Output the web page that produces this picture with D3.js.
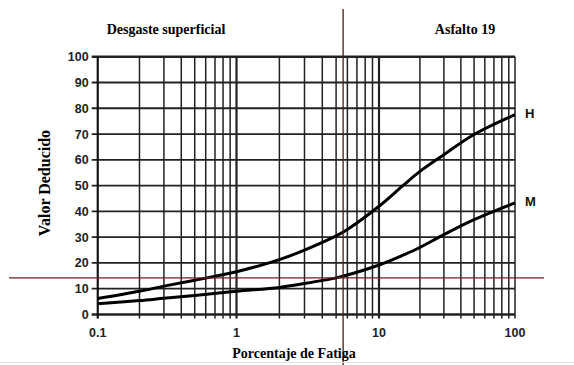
<!DOCTYPE html>
<html>
<head>
<meta charset="utf-8">
<script src="https://cdn.jsdelivr.net/npm/d3@7"></script>
<style>
  body { margin: 0; background: #fff; }
  svg { display: block; }
</style>
</head>
<body>
<svg id="chart" width="574" height="365"></svg>
<script>
// curve data
const fatigue = [0.1, 0.2, 0.3, 0.5, 1, 2, 3, 5, 6, 10, 15, 20, 30, 50, 100];
const highValues = [6.2, 9.0, 11.0, 13.3, 16.6, 21.3, 25, 30.5, 33, 42, 50, 55.5, 62, 69.8, 77.5];
const mediumValues = [4.2, 5.4, 6.3, 7.4, 9.0, 10.5, 12, 14.2, 15.3, 19.2, 23, 26, 31, 36.8, 43.3];
const seriesLabels = ["H", "M"];
const yTicks = [0, 10, 20, 30, 40, 50, 60, 70, 80, 90, 100];
const xLabelTicks = [0.1, 1, 10, 100];
const titles = ["Desgaste superficial", "Asfalto 19"];
// red reading lines
const readFatigue = 5.6;
const readValue = 14.2;

const svg = d3.select("#chart");
const plotLeft = 97.7, plotRight = 515, plotTop = 56.7, plotBottom = 314.5;

// the scanned decades are not quite even, so map each decade separately
const x = d3.scaleLog().domain([0.1, 1, 10, 100]).range([plotLeft, 236.5, 379, plotRight]);
const y = d3.scaleLinear().domain([0, 100]).range([plotBottom, plotTop]);

// all grid positions: 0.1..1..10..100
const gridX = [];
[0.1, 1, 10].forEach(d => { for (let k = 1; k <= 9; k++) gridX.push(+(d * k).toPrecision(3)); });
gridX.push(100);

const grid = svg.append("g");
grid.selectAll("line.v").data(gridX).enter().append("line")
  .attr("x1", d => x(d)).attr("x2", d => x(d))
  .attr("y1", plotTop).attr("y2", plotBottom + 4)
  .attr("stroke", "#222")
  .attr("stroke-width", d => (d === 1 || d === 10) ? 2.2 : 1.5);

grid.selectAll("line.h").data(yTicks).enter().append("line")
  .attr("x1", plotLeft - 6).attr("x2", plotRight)
  .attr("y1", d => y(d)).attr("y2", d => y(d))
  .attr("stroke", "#222")
  .attr("stroke-width", d => (d === 100 || d === 0) ? 2.4 : 1.8);

// left axis line
svg.append("line")
  .attr("x1", plotLeft).attr("x2", plotLeft).attr("y1", plotTop).attr("y2", plotBottom + 4)
  .attr("stroke", "#111").attr("stroke-width", 2);

// y tick labels
svg.append("g").selectAll("text").data(yTicks).enter().append("text")
  .attr("x", plotLeft - 9).attr("y", d => y(d) + 4.5)
  .attr("text-anchor", "end")
  .attr("font-family", "'Liberation Sans', Arial, sans-serif")
  .attr("font-weight", "bold").attr("font-size", 12.5)
  .attr("fill", "#222")
  .text(d => d);

// x tick labels
svg.append("g").selectAll("text").data(xLabelTicks).enter().append("text")
  .attr("x", d => x(d)).attr("y", 337)
  .attr("text-anchor", "middle")
  .attr("font-family", "'Liberation Sans', Arial, sans-serif")
  .attr("font-weight", "bold").attr("font-size", 12.5)
  .attr("fill", "#222")
  .text(d => d);

// curves
const line = d3.line()
  .x((d, i) => x(fatigue[i]))
  .y(d => y(d))
  .curve(d3.curveCatmullRom.alpha(0.5));

[highValues, mediumValues].forEach((vals, i) => {
  svg.append("path")
    .attr("d", line(vals))
    .attr("fill", "none")
    .attr("stroke", "#000")
    .attr("stroke-width", 3);
  svg.append("text")
    .attr("x", plotRight + 10).attr("y", y(vals[vals.length - 1]) + 3)
    .attr("font-family", "'Liberation Sans', Arial, sans-serif")
    .attr("font-weight", "bold").attr("font-size", 13)
    .attr("fill", "#111")
    .text(seriesLabels[i]);
});

// reading lines
svg.append("line")
  .attr("x1", 9).attr("x2", 544)
  .attr("y1", y(readValue)).attr("y2", y(readValue))
  .attr("stroke", "#6b2020").attr("stroke-width", 1.2);
svg.append("line")
  .attr("x1", x(readFatigue)).attr("x2", x(readFatigue))
  .attr("y1", 9).attr("y2", 365)
  .attr("stroke", "#4a1c1c").attr("stroke-width", 1.3);

// titles
const serif = "'Liberation Serif', 'Times New Roman', serif";
svg.append("text").attr("x", 166).attr("y", 34).attr("text-anchor", "middle")
  .attr("font-family", serif).attr("font-weight", "bold").attr("font-size", 14)
  .text(titles[0]);
svg.append("text").attr("x", 465).attr("y", 34).attr("text-anchor", "middle")
  .attr("font-family", serif).attr("font-weight", "bold").attr("font-size", 14)
  .text(titles[1]);

// axis titles
svg.append("text")
  .attr("transform", "translate(50,183) rotate(-90)")
  .attr("text-anchor", "middle")
  .attr("font-family", serif).attr("font-weight", "bold").attr("font-size", 16)
  .text("Valor Deducido");
svg.append("text").attr("x", 294).attr("y", 358).attr("text-anchor", "middle")
  .attr("font-family", serif).attr("font-weight", "bold").attr("font-size", 14)
  .text("Porcentaje de Fatiga");

// faint scan edge at the bottom
svg.append("line").attr("x1", 0).attr("x2", 574).attr("y1", 362.5).attr("y2", 362.5)
  .attr("stroke", "#e2e2e2").attr("stroke-width", 1);
</script>
</body>
</html>
